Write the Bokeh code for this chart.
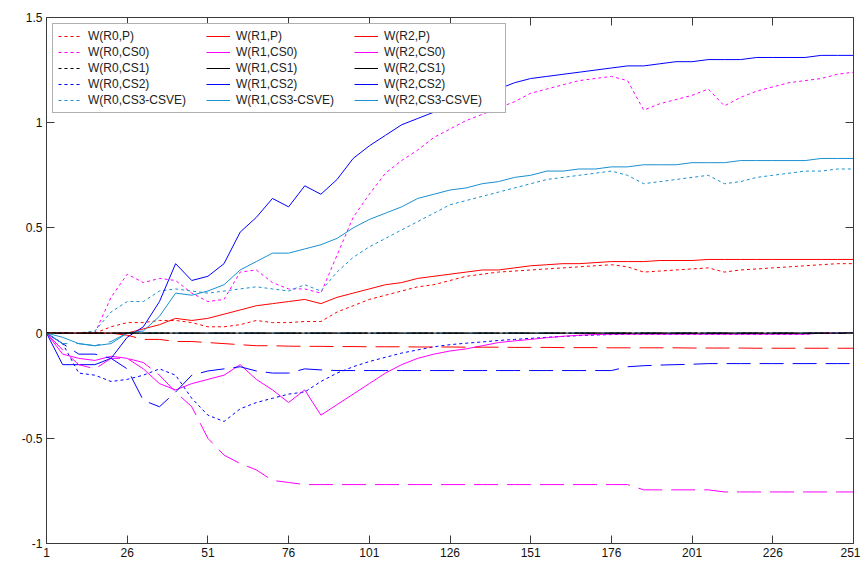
from bokeh.plotting import figure
from bokeh.models import Legend, LegendItem, LinearAxis, FixedTicker, Range1d
from bokeh.embed import file_html
from bokeh.resources import INLINE

# sample positions (iteration index)
x = [1, 6, 11, 16, 21, 26, 31, 36, 41, 46, 51, 56, 61, 66, 71, 76, 81, 86, 91, 96,
     101, 106, 111, 116, 121, 126, 131, 136, 141, 146, 151, 156, 161, 166, 171, 176,
     181, 186, 191, 196, 201, 206, 211, 216, 221, 226, 231, 236, 241, 246, 251]

W_R0_P = [0, 0, 0, 0, 0.03, 0.05, 0.05, 0.06, 0.06, 0.05, 0.03, 0.03, 0.04, 0.06, 0.05, 0.05,
          0.055, 0.055, 0.10, 0.13, 0.16, 0.18, 0.20, 0.22, 0.23, 0.25, 0.27, 0.28, 0.29, 0.295,
          0.30, 0.305, 0.31, 0.315, 0.32, 0.325, 0.315, 0.29, 0.295, 0.30, 0.305, 0.31, 0.29,
          0.30, 0.305, 0.31, 0.315, 0.32, 0.325, 0.33, 0.33]
W_R0_CS0 = [0, 0, 0, 0, 0.17, 0.28, 0.24, 0.26, 0.25, 0.19, 0.15, 0.16, 0.29, 0.30, 0.24, 0.21,
            0.21, 0.19, 0.37, 0.55, 0.66, 0.76, 0.82, 0.87, 0.93, 0.97, 1.01, 1.04, 1.07, 1.10,
            1.14, 1.16, 1.18, 1.20, 1.21, 1.22, 1.20, 1.06, 1.09, 1.11, 1.13, 1.16, 1.08, 1.12,
            1.15, 1.17, 1.19, 1.20, 1.21, 1.23, 1.24]
W_R0_CS1 = [0, 0, 0, 0, 0, 0, 0, 0, 0, 0, 0, 0, 0, 0, 0, 0, 0, 0, 0, 0, 0, 0, 0, 0, 0, 0,
            0, 0, 0, 0, 0, 0, 0, 0, 0, 0, 0, 0, 0, 0, 0, 0, 0, 0, 0, 0, 0, 0, 0, 0, 0]
W_R0_CS2 = [0, -0.05, -0.19, -0.20, -0.23, -0.22, -0.20, -0.17, -0.20, -0.31, -0.39, -0.42,
            -0.36, -0.33, -0.31, -0.29, -0.28, -0.23, -0.19, -0.16, -0.135, -0.115, -0.095,
            -0.08, -0.065, -0.055, -0.048, -0.042, -0.035, -0.03, -0.025, -0.02, -0.016,
            -0.012, -0.009, -0.007, -0.005, -0.005, -0.005, -0.005, -0.005, -0.005, -0.005,
            -0.005, -0.005, -0.005, -0.005, -0.005, 0, 0, 0]
W_R0_CS3 = [0, 0, 0, 0.01, 0.10, 0.15, 0.15, 0.20, 0.21, 0.20, 0.19, 0.20, 0.21, 0.22, 0.21,
            0.20, 0.23, 0.20, 0.29, 0.36, 0.41, 0.45, 0.49, 0.53, 0.57, 0.61, 0.63, 0.65, 0.67,
            0.69, 0.71, 0.73, 0.74, 0.75, 0.76, 0.77, 0.75, 0.71, 0.72, 0.73, 0.74, 0.75, 0.71,
            0.72, 0.74, 0.75, 0.76, 0.77, 0.77, 0.78, 0.78]

W_R1_P = [0, 0, 0, 0, 0, 0, 0.02, 0.04, 0.07, 0.06, 0.07, 0.09, 0.11, 0.13, 0.14, 0.15, 0.16,
          0.14, 0.17, 0.19, 0.21, 0.23, 0.24, 0.26, 0.27, 0.28, 0.29, 0.30, 0.30, 0.31, 0.32,
          0.325, 0.33, 0.33, 0.335, 0.34, 0.34, 0.34, 0.345, 0.345, 0.345, 0.35, 0.35, 0.35,
          0.35, 0.35, 0.35, 0.35, 0.35, 0.35, 0.35]
W_R1_CS0 = [0, -0.10, -0.12, -0.13, -0.11, -0.12, -0.17, -0.24, -0.27, -0.24, -0.22, -0.20,
            -0.15, -0.22, -0.27, -0.33, -0.27, -0.39, -0.34, -0.29, -0.24, -0.19, -0.15, -0.12,
            -0.10, -0.085, -0.075, -0.06, -0.045, -0.037, -0.03, -0.022, -0.015, -0.01, -0.007,
            -0.005, -0.005, -0.005, -0.005, -0.005, -0.005, -0.005, -0.005, -0.005, -0.005,
            -0.005, -0.005, -0.005, 0, 0, 0]
W_R1_CS1 = [0, 0, 0, 0, 0, 0, 0, 0, 0, 0, 0, 0, 0, 0, 0, 0, 0, 0, 0, 0, 0, 0, 0, 0, 0, 0,
            0, 0, 0, 0, 0, 0, 0, 0, 0, 0, 0, 0, 0, 0, 0, 0, 0, 0, 0, 0, 0, 0, 0, 0, 0]
W_R1_CS2 = [0, -0.15, -0.15, -0.15, -0.12, -0.02, 0.03, 0.15, 0.33, 0.25, 0.27, 0.33, 0.48,
            0.55, 0.64, 0.60, 0.70, 0.66, 0.73, 0.83, 0.89, 0.94, 0.99, 1.02, 1.05, 1.08, 1.11,
            1.14, 1.16, 1.19, 1.21, 1.22, 1.23, 1.24, 1.25, 1.26, 1.27, 1.27, 1.28, 1.29, 1.29,
            1.30, 1.30, 1.30, 1.31, 1.31, 1.31, 1.31, 1.32, 1.32, 1.32]
W_R1_CS3 = [0, -0.02, -0.05, -0.06, -0.05, 0, 0.01, 0.08, 0.19, 0.18, 0.20, 0.23, 0.30, 0.34,
            0.38, 0.38, 0.40, 0.42, 0.45, 0.50, 0.54, 0.57, 0.60, 0.64, 0.66, 0.68, 0.69, 0.71,
            0.72, 0.74, 0.75, 0.77, 0.77, 0.78, 0.78, 0.79, 0.79, 0.80, 0.80, 0.80, 0.81, 0.81,
            0.81, 0.82, 0.82, 0.82, 0.82, 0.82, 0.83, 0.83, 0.83]

W_R2_P = [0, 0, 0, 0, 0, -0.01, -0.03, -0.03, -0.04, -0.04, -0.045, -0.05, -0.055, -0.06,
          -0.06, -0.062, -0.063, -0.063, -0.064, -0.064, -0.065, -0.065, -0.065, -0.066,
          -0.066, -0.066, -0.067, -0.067, -0.067, -0.068, -0.068, -0.068, -0.069, -0.069,
          -0.069, -0.07, -0.07, -0.07, -0.07, -0.07, -0.071, -0.071, -0.071, -0.071, -0.072,
          -0.072, -0.072, -0.072, -0.072, -0.072, -0.072]
W_R2_CS0 = [0, -0.08, -0.15, -0.17, -0.12, -0.12, -0.14, -0.20, -0.28, -0.35, -0.50, -0.58,
            -0.62, -0.65, -0.70, -0.71, -0.72, -0.72, -0.72, -0.72, -0.72, -0.72, -0.72, -0.72,
            -0.72, -0.72, -0.72, -0.72, -0.72, -0.72, -0.72, -0.72, -0.72, -0.72, -0.72, -0.72,
            -0.72, -0.745, -0.745, -0.745, -0.745, -0.745, -0.755, -0.755, -0.755, -0.755,
            -0.755, -0.755, -0.755, -0.755, -0.755]
W_R2_CS1 = [0, 0, 0, 0, 0, 0, 0, 0, 0, 0, 0, 0, 0, 0, 0, 0, 0, 0, 0, 0, 0, 0, 0, 0, 0, 0,
            0, 0, 0, 0, 0, 0, 0, 0, 0, 0, 0, 0, 0, 0, 0, 0, 0, 0, 0, 0, 0, 0, 0, 0, 0]
W_R2_CS2 = [0, -0.05, -0.10, -0.10, -0.12, -0.17, -0.32, -0.35, -0.28, -0.20, -0.18, -0.17,
            -0.16, -0.18, -0.19, -0.19, -0.17, -0.175, -0.178, -0.178, -0.178, -0.178, -0.178,
            -0.178, -0.178, -0.178, -0.178, -0.178, -0.178, -0.178, -0.178, -0.178, -0.178,
            -0.178, -0.178, -0.178, -0.16, -0.155, -0.152, -0.15, -0.148, -0.145, -0.145,
            -0.145, -0.145, -0.145, -0.145, -0.145, -0.145, -0.145, -0.145]
W_R2_CS3 = [0, -0.05, -0.05, -0.06, -0.04, 0, 0, 0, 0, 0, 0, 0, 0, 0, 0, 0, 0, 0, 0, 0, 0, 0,
            0, 0, 0, 0, 0, 0, 0, 0, 0, 0, 0, 0, 0, 0, 0, 0, 0, 0, 0, 0, 0, 0, 0, 0, 0, 0, 0, 0, 0]

x_ticks = [1, 26, 51, 76, 101, 126, 151, 176, 201, 226, 251]
y_ticks = [-1, -0.5, 0, 0.5, 1, 1.5]
y_tick_labels = ["-1", "-0.5", "0", "0.5", "1", "1.5"]

series = [
    ("W(R0,P)", W_R0_P), ("W(R0,CS0)", W_R0_CS0), ("W(R0,CS1)", W_R0_CS1),
    ("W(R0,CS2)", W_R0_CS2), ("W(R0,CS3-CSVE)", W_R0_CS3),
    ("W(R1,P)", W_R1_P), ("W(R1,CS0)", W_R1_CS0), ("W(R1,CS1)", W_R1_CS1),
    ("W(R1,CS2)", W_R1_CS2), ("W(R1,CS3-CSVE)", W_R1_CS3),
    ("W(R2,P)", W_R2_P), ("W(R2,CS0)", W_R2_CS0), ("W(R2,CS1)", W_R2_CS1),
    ("W(R2,CS2)", W_R2_CS2), ("W(R2,CS3-CSVE)", W_R2_CS3),
]
colors = ["#ff0000", "#ff00ff", "#000000", "#0000ff", "#1a90d0"]
dashes = ["3 3", "solid", "24 9"]

FONT = "Liberation Sans"
AX = "#3a3a3a"

p = figure(frame_width=807, frame_height=526, output_backend="svg", toolbar_location=None,
           x_range=Range1d(1, 251), y_range=Range1d(-1, 1.5),
           min_border_left=46, min_border_right=7, min_border_top=17, min_border_bottom=18)
p.xgrid.visible = False
p.ygrid.visible = False
p.outline_line_color = AX
p.outline_line_width = 1

# draw coloured series first, the black CS1 series (all zero) on top
renderers = {}
order = [i for i in range(15) if i % 5 != 2] + [i for i in range(15) if i % 5 == 2]
for i in order:
    label, vals = series[i]
    renderers[i] = p.line(x, vals, line_color=colors[i % 5], line_dash=dashes[i // 5],
                          line_width=1)
items = [LegendItem(label=series[i][0], renderers=[renderers[i]]) for i in range(15)]


def style_axis(ax, labels=True):
    ax.axis_line_color = AX
    ax.major_tick_line_color = AX
    ax.major_tick_in = 8
    ax.major_tick_out = 0
    ax.minor_tick_line_color = None
    ax.major_label_text_font = FONT
    if labels:
        ax.major_label_text_font_size = "12px"
        ax.major_label_text_color = "#111111"
        ax.major_label_standoff = 4
    else:
        ax.major_label_text_font_size = "1px"
        ax.major_label_text_color = None
        ax.major_label_standoff = 0


p.xaxis.ticker = FixedTicker(ticks=x_ticks)
p.yaxis.ticker = FixedTicker(ticks=y_ticks)
p.yaxis.major_label_overrides = {t: s for t, s in zip(y_ticks, y_tick_labels)}
style_axis(p.xaxis[0])
style_axis(p.yaxis[0])

top = LinearAxis(ticker=FixedTicker(ticks=x_ticks))
right = LinearAxis(ticker=FixedTicker(ticks=y_ticks))
style_axis(top, labels=False)
style_axis(right, labels=False)
p.add_layout(top, "above")
p.add_layout(right, "right")

legend = Legend(items=items, ncols=3, orientation="vertical", location="top_left",
                margin=6, padding=5, spacing=2, glyph_width=24, glyph_height=14,
                label_height=14, label_width=116, label_standoff=6,
                label_text_font=FONT, label_text_font_size="12px",
                label_text_color="#222222",
                border_line_color="#606060", border_line_width=1.5,
                background_fill_color="white", background_fill_alpha=1.0)
p.add_layout(legend)

open("out.html", "w").write(file_html(p, INLINE))
